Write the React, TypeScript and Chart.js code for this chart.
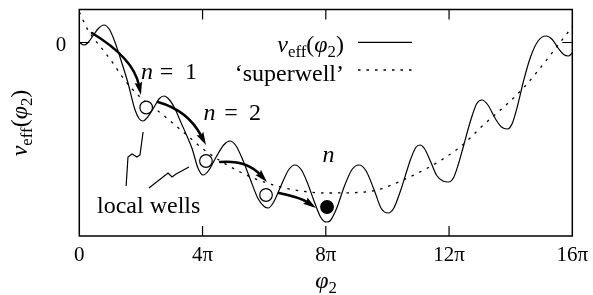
import React, { useEffect, useRef } from 'react';
import { Chart, registerables } from 'chart.js';

Chart.register(...registerables);

const FONT = '"Liberation Serif", "Times New Roman", serif';

// x in units of π
const xTicks = [0, 4, 8, 12, 16];
const xTickLabels = ['0', '4π', '8π', '12π', '16π'];
const yTicks = [0];
const yTickLabels = ['0'];

// v_eff(φ2) – solid curve
const vEffPhi = [0, 0.15, 0.3, 0.45, 0.62, 0.8, 0.98, 1.15, 1.32, 1.58, 1.81, 1.95, 2.07, 2.22, 2.42, 2.6, 2.75, 2.93, 3.1, 3.3, 3.5, 3.66, 3.85, 4.02, 4.2, 4.45, 4.7, 4.89, 5.08, 5.3, 5.54, 5.8, 6.0, 6.13, 6.3, 6.55, 6.8, 7.0, 7.2, 7.4, 7.6, 7.82, 7.95, 8.04, 8.15, 8.35, 8.6, 8.85, 9.08, 9.3, 9.57, 9.8, 10.02, 10.2, 10.45, 10.75, 10.92, 11.06, 11.2, 11.4, 11.6, 11.8, 11.98, 12.15, 12.3, 12.46, 12.7, 12.9, 13.07, 13.25, 13.5, 13.7, 13.9, 14.05, 14.25, 14.4, 14.65, 14.9, 15.15, 15.35, 15.55, 15.72, 15.87, 16];
const vEffVal = [0, -0.25, 0.05, 0.7, 1.4, 1.75, 1.3, 0.1, -1.45, -4.05, -6.75, -7.65, -7.85, -7.45, -6.5, -5.6, -5.35, -5.75, -6.6, -8.0, -9.4, -10.6, -12.55, -13.25, -12.8, -11.4, -10.2, -9.85, -10.3, -11.7, -13.6, -15.6, -16.4, -16.55, -16.0, -14.3, -12.7, -12.25, -12.7, -14.0, -15.7, -17.4, -17.9, -17.95, -17.8, -16.6, -14.4, -12.7, -12.25, -12.8, -14.75, -16.6, -17.05, -16.6, -14.6, -11.7, -10.5, -10.25, -10.6, -11.9, -13.3, -13.85, -13.95, -13.5, -12.2, -10.45, -7.8, -6.1, -5.75, -6.2, -7.6, -8.45, -8.65, -8.1, -6.0, -4.05, -1.4, 0.2, 0.65, 0.3, -0.6, -1.2, -1.35, -1.05];

// 'superwell' – dotted curve
const superPhi = [0, 0.28, 0.77, 1.09, 1.42, 1.97, 2.72, 3.37, 4.15, 5.22, 6.09, 7.0, 8.0, 9.28, 10.51, 12.36, 13.01, 14.41, 15.87, 16];
const superVal = [3.05, 1.25, -0.75, -2.05, -3.55, -5.45, -7.25, -8.95, -10.95, -12.95, -14.05, -14.75, -15.05, -14.95, -13.75, -10.45, -8.55, -4.55, 1.05, 1.55];

// balls
const openPhi = [2.17, 4.11, 6.06];
const openVal = [-6.5, -11.85, -15.25];
const filledPhi = [8.04];
const filledVal = [-16.45];

// arrows: [start, through, end] as [phi, v]
const arrowPaths: number[][][] = [
  [[0.41, 0.95], [1.48, -1.85], [2.0, -5.25]],
  [[2.55, -5.95], [3.43, -7.45], [4.11, -10.25]],
  [[4.57, -11.95], [5.38, -12.35], [6.09, -13.95]],
  [[6.48, -15.05], [7.13, -15.65], [7.68, -16.55]],
];

// "local wells" pointer lines
const wellLine1Phi = [1.52, 1.58, 1.71, 1.87, 1.97, 2.07];
const wellLine1Val = [-14.35, -11.45, -11.15, -11.45, -11.25, -8.95];
const wellLine2Phi = [2.26, 2.88, 3.01, 3.14, 3.56];
const wellLine2Val = [-14.55, -13.05, -13.45, -13.15, -12.45];

const Y_MIN = -19.35;
const Y_MAX = 3.3;

type Part = { t: string; it?: boolean; sub?: boolean };

function fontFor(p: Part, size: number) {
  const s = p.sub ? size * 0.7 : size;
  return `${p.it ? 'italic ' : ''}${s}px ${FONT}`;
}

function drawRich(ctx: CanvasRenderingContext2D, parts: Part[], x: number, y: number, size: number, align: 'left' | 'right' | 'center') {
  let w = 0;
  for (const p of parts) {
    ctx.font = fontFor(p, size);
    w += ctx.measureText(p.t).width;
  }
  let cx = align === 'left' ? x : align === 'right' ? x - w : x - w / 2;
  ctx.textAlign = 'left';
  ctx.textBaseline = 'alphabetic';
  for (const p of parts) {
    ctx.font = fontFor(p, size);
    ctx.fillText(p.t, cx, y + (p.sub ? size * 0.22 : 0));
    cx += ctx.measureText(p.t).width;
  }
}

function centered(ctx: CanvasRenderingContext2D, t: string, x: number, y: number, size: number, italic = false) {
  ctx.font = `${italic ? 'italic ' : ''}${size}px ${FONT}`;
  ctx.textAlign = 'center';
  ctx.textBaseline = 'alphabetic';
  ctx.fillText(t, x, y);
}

const annotPlugin = {
  id: 'annot',
  afterDatasetsDraw(chart: any) {
    const ctx: CanvasRenderingContext2D = chart.ctx;
    const xs = chart.scales.x;
    const ys = chart.scales.y;
    const { left, right, top, bottom } = chart.chartArea;
    ctx.save();
    ctx.strokeStyle = '#000';
    ctx.fillStyle = '#000';

    // frame
    ctx.lineWidth = 1.5;
    ctx.setLineDash([]);
    ctx.strokeRect(left, top, right - left, bottom - top);

    // inward ticks (mirrored)
    ctx.lineWidth = 1.2;
    for (const v of xTicks) {
      if (v === xTicks[0] || v === xTicks[xTicks.length - 1]) continue;
      const px = xs.getPixelForValue(v);
      ctx.beginPath();
      ctx.moveTo(px, bottom);
      ctx.lineTo(px, bottom - 10);
      ctx.moveTo(px, top);
      ctx.lineTo(px, top + 10);
      ctx.stroke();
    }
    for (const v of yTicks) {
      const py = ys.getPixelForValue(v);
      ctx.beginPath();
      ctx.moveTo(left, py);
      ctx.lineTo(left + 10, py);
      ctx.moveTo(right, py);
      ctx.lineTo(right - 10, py);
      ctx.stroke();
    }

    // arrows
    for (const path of arrowPaths) {
      const p0 = { x: xs.getPixelForValue(path[0][0]), y: ys.getPixelForValue(path[0][1]) };
      const p1 = { x: xs.getPixelForValue(path[1][0]), y: ys.getPixelForValue(path[1][1]) };
      const p2 = { x: xs.getPixelForValue(path[2][0]), y: ys.getPixelForValue(path[2][1]) };
      const cx = 2 * p1.x - (p0.x + p2.x) / 2;
      const cy = 2 * p1.y - (p0.y + p2.y) / 2;
      let dx = p2.x - cx;
      let dy = p2.y - cy;
      const L = Math.hypot(dx, dy) || 1;
      dx /= L;
      dy /= L;
      const headLen = 13;
      const headW = 3.8;
      const bx = p2.x - dx * headLen;
      const by = p2.y - dy * headLen;
      ctx.lineWidth = 2.6;
      ctx.lineCap = 'round';
      ctx.beginPath();
      ctx.moveTo(p0.x, p0.y);
      ctx.quadraticCurveTo(cx, cy, bx + dx * 3, by + dy * 3);
      ctx.stroke();
      ctx.beginPath();
      ctx.moveTo(p2.x, p2.y);
      ctx.lineTo(bx - dy * headW, by + dx * headW);
      ctx.lineTo(bx + dx * 2, by + dy * 2);
      ctx.lineTo(bx + dy * headW, by - dx * headW);
      ctx.closePath();
      ctx.fill();
    }

    // labels
    const ms = 24;
    centered(ctx, 'n', 147, 79, ms, true);
    centered(ctx, '=', 166.5, 79, ms);
    centered(ctx, '1', 191, 79, ms);
    centered(ctx, 'n', 209.5, 120, ms, true);
    centered(ctx, '=', 231, 120, ms);
    centered(ctx, '2', 255, 120, ms);
    centered(ctx, 'n', 328.5, 162, ms, true);

    ctx.font = `24px ${FONT}`;
    ctx.textAlign = 'left';
    ctx.textBaseline = 'alphabetic';
    ctx.fillText('local wells', 97, 213);

    // legend
    drawRich(ctx, [{ t: 'v', it: true }, { t: 'eff', sub: true }, { t: '(' }, { t: 'φ', it: true }, { t: '2', sub: true }, { t: ')' }], 344, 52, 24, 'right');
    drawRich(ctx, [{ t: '\u2018superwell\u2019' }], 344, 81, 24, 'right');
    ctx.lineWidth = 1.2;
    ctx.lineCap = 'butt';
    ctx.beginPath();
    ctx.moveTo(358, 42.3);
    ctx.lineTo(412, 42.3);
    ctx.stroke();
    ctx.setLineDash([2.5, 6]);
    ctx.lineWidth = 1.3;
    ctx.beginPath();
    ctx.moveTo(358, 70);
    ctx.lineTo(412, 70);
    ctx.stroke();
    ctx.setLineDash([]);

    // axis titles
    drawRich(ctx, [{ t: 'φ', it: true }, { t: '2', sub: true }], 326, 288, 24, 'center');
    ctx.save();
    ctx.translate(27, 123);
    ctx.rotate(-Math.PI / 2);
    drawRich(ctx, [{ t: 'v', it: true }, { t: 'eff', sub: true }, { t: '(' }, { t: 'φ', it: true }, { t: '2', sub: true }, { t: ')' }], 0, 0, 24, 'center');
    ctx.restore();

    ctx.restore();
  },
};

const toXY = (xs: number[], ys: number[]) => xs.map((x, i) => ({ x, y: ys[i] }));

export default function App() {
  const ref = useRef<HTMLCanvasElement | null>(null);
  useEffect(() => {
    if (!ref.current) return;
    const chart = new Chart(ref.current, {
      type: 'scatter',
      data: {
        datasets: [
          {
            data: toXY(superPhi, superVal),
            showLine: true,
            borderColor: '#000',
            borderWidth: 1.3,
            borderDash: [2.5, 6],
            pointRadius: 0,
            cubicInterpolationMode: 'monotone',
            order: 5,
          } as any,
          {
            data: toXY(vEffPhi, vEffVal),
            showLine: true,
            borderColor: '#000',
            borderWidth: 1.2,
            pointRadius: 0,
            cubicInterpolationMode: 'monotone',
            order: 4,
          } as any,
          {
            data: toXY(wellLine1Phi, wellLine1Val),
            showLine: true,
            borderColor: '#000',
            borderWidth: 1.2,
            pointRadius: 0,
            tension: 0,
            order: 3,
          } as any,
          {
            data: toXY(wellLine2Phi, wellLine2Val),
            showLine: true,
            borderColor: '#000',
            borderWidth: 1.2,
            pointRadius: 0,
            tension: 0,
            order: 3,
          } as any,
          {
            data: toXY(openPhi, openVal),
            showLine: false,
            pointRadius: 6.3,
            pointBackgroundColor: '#fff',
            pointBorderColor: '#000',
            pointBorderWidth: 1.2,
            order: 1,
          } as any,
          {
            data: toXY(filledPhi, filledVal),
            showLine: false,
            pointRadius: 6.3,
            pointBackgroundColor: '#000',
            pointBorderColor: '#000',
            pointBorderWidth: 1.2,
            order: 1,
          } as any,
        ],
      },
      options: {
        animation: false,
        responsive: false,
        devicePixelRatio: 1,
        layout: { padding: { top: 9.5, right: 20.7, left: 0, bottom: 0 } },
        plugins: { legend: { display: false }, tooltip: { enabled: false } },
        scales: {
          x: {
            type: 'linear',
            min: 0,
            max: 16,
            afterBuildTicks: (s: any) => {
              s.ticks = xTicks.map((v) => ({ value: v }));
            },
            afterFit: (s: any) => {
              s.height = 59;
              s.paddingLeft = 0;
              s.paddingRight = 0;
            },
            ticks: {
              callback: (v: any) => xTickLabels[xTicks.indexOf(Number(v))],
              font: { family: FONT, size: 21 },
              color: '#000',
              padding: 7,
              maxRotation: 0,
              autoSkip: false,
            },
            grid: { display: false, drawTicks: false, tickLength: 0 },
            border: { display: false },
          },
          y: {
            type: 'linear',
            min: Y_MIN,
            max: Y_MAX,
            afterBuildTicks: (s: any) => {
              s.ticks = yTicks.map((v) => ({ value: v }));
            },
            afterFit: (s: any) => {
              s.width = 79.3;
              s.paddingTop = 0;
              s.paddingBottom = 0;
            },
            ticks: {
              callback: (v: any) => yTickLabels[yTicks.indexOf(Number(v))],
              font: { family: FONT, size: 21 },
              color: '#000',
              padding: 13,
              labelOffset: 3,
            },
            grid: { display: false, drawTicks: false, tickLength: 0 },
            border: { display: false },
          },
        },
      } as any,
      plugins: [annotPlugin],
    });
    return () => chart.destroy();
  }, []);
  return (
    <div style={{ position: 'fixed', left: 0, top: 0, width: 593, height: 295, background: '#fff' }}>
      <canvas ref={ref} width={593} height={295} style={{ width: 593, height: 295 }} />
    </div>
  );
}
